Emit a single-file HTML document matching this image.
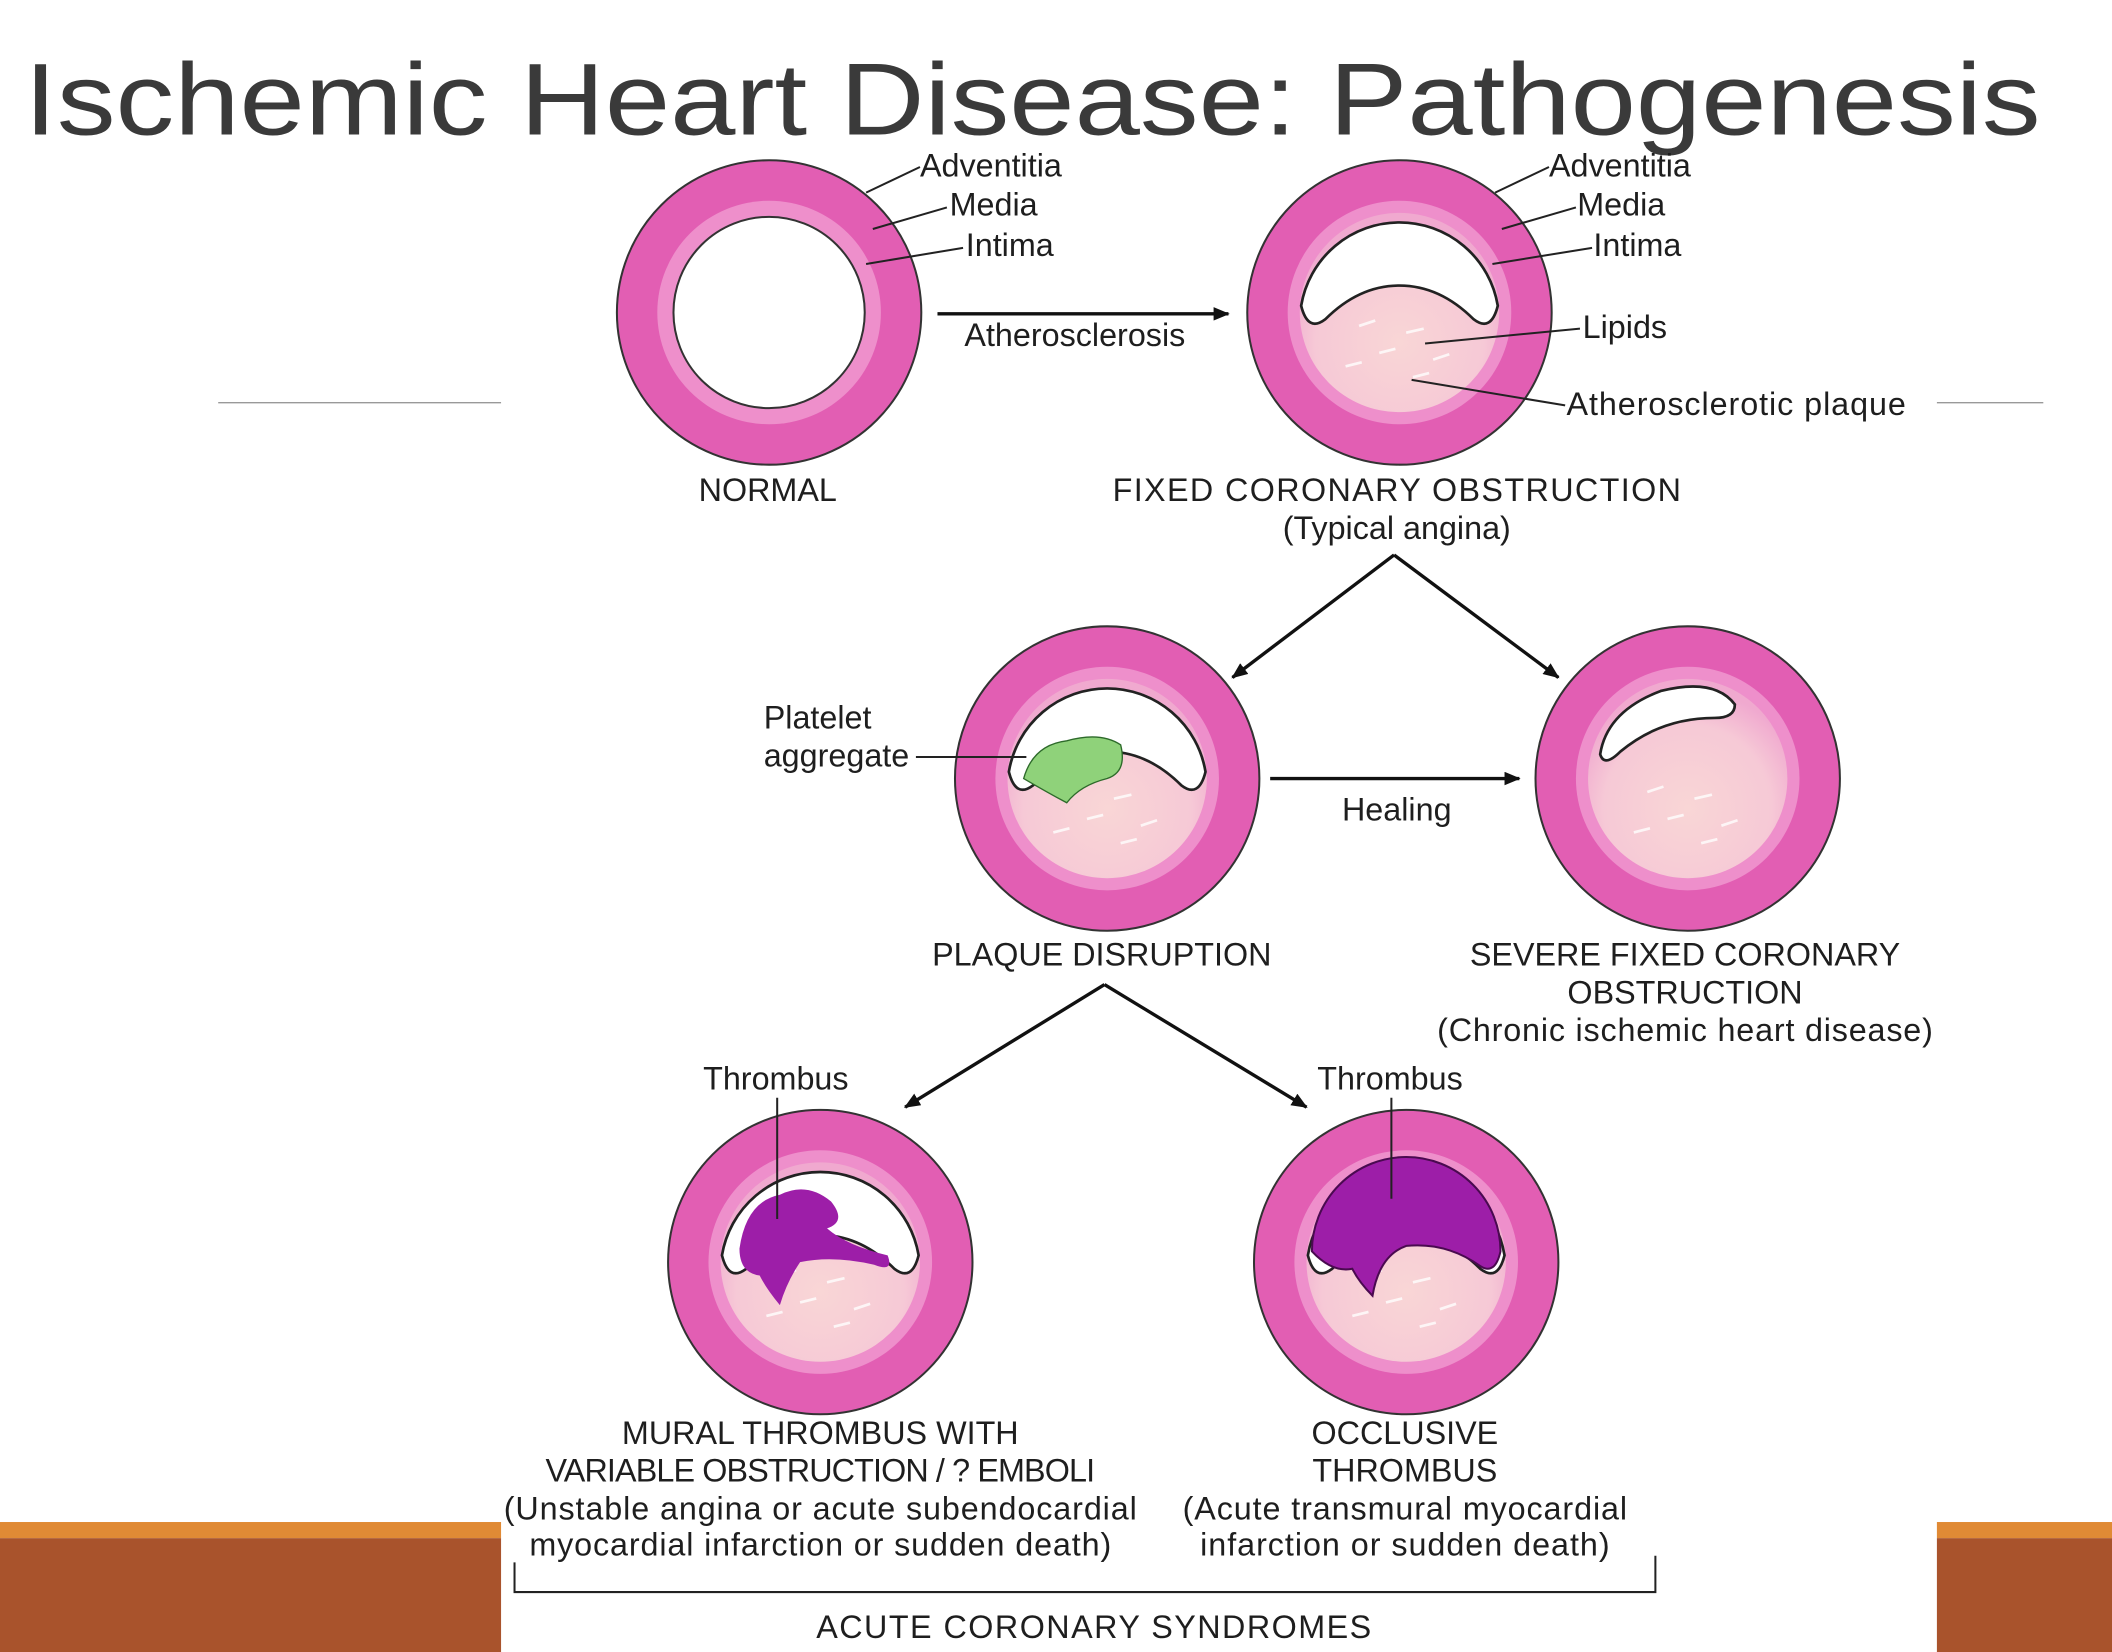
<!DOCTYPE html>
<html><head><meta charset="utf-8"><style>
html,body{margin:0;padding:0;background:#fff;}
svg{display:block;}
svg text{font-family:"Liberation Sans",Arial,sans-serif;fill:#1e1e1e;}
</style></head><body>
<svg width="2112" height="1652" viewBox="0 0 1568 1226.5" preserveAspectRatio="none" xmlns="http://www.w3.org/2000/svg" font-family="Liberation Sans, Arial, sans-serif">
<defs>
<radialGradient id="pl" cx="0.5" cy="0.65" r="0.6">
<stop offset="0" stop-color="#f9d6d6"/><stop offset="0.7" stop-color="#f6c9d6"/><stop offset="1" stop-color="#f0a9cf"/>
</radialGradient>
<marker id="ah" markerWidth="12" markerHeight="10" refX="11" refY="5" orient="auto" markerUnits="userSpaceOnUse">
<path d="M0,0 L12,5 L0,10 Z" fill="#111"/></marker>
<g id="ring">
<circle r="113" fill="#e25eb3" stroke="#333" stroke-width="1.5"/>
<circle r="83" fill="#ee8fcb"/>
<circle r="74" fill="url(#pl)"/>
<g stroke="#fff" stroke-width="2" opacity="0.8">
<line x1="-30" y1="10" x2="-18" y2="6"/><line x1="5" y1="15" x2="18" y2="12"/><line x1="-15" y1="30" x2="-3" y2="27"/><line x1="25" y1="35" x2="37" y2="31"/><line x1="-40" y1="40" x2="-28" y2="37"/><line x1="10" y1="48" x2="22" y2="45"/>
</g>
</g>
</defs>
<rect width="1568" height="1226.5" fill="#fff"/>
<text x="18" y="100" font-size="76" style="fill:#3a3a3a" textLength="1497" lengthAdjust="spacingAndGlyphs">Ischemic Heart Disease:   Pathogenesis</text>
<line x1="162" y1="299" x2="372" y2="299" stroke="#999" stroke-width="1"/>
<line x1="1438" y1="299" x2="1517" y2="299" stroke="#999" stroke-width="1"/>
<rect x="0" y="1130" width="372" height="12" fill="#e08a35"/>
<rect x="0" y="1142" width="372" height="85" fill="#a9532c"/>
<rect x="1438" y="1130" width="130" height="12" fill="#e08a35"/>
<rect x="1438" y="1142" width="130" height="85" fill="#a9532c"/>

<g transform="translate(571,232)">
<circle r="113" fill="#e25eb3" stroke="#333" stroke-width="1.5"/>
<circle r="83" fill="#ee8fcb"/>
<circle r="71" fill="#fff" stroke="#333" stroke-width="1.5"/>
</g>
<g transform="translate(1039,232)">
<use href="#ring"/>
<path d="M-73,-5 A74,74 0 0 1 73,-5 Q68,15 55,5 Q30,-20 0,-20 Q-30,-20 -55,5 Q-68,15 -73,-5 Z" fill="#fff" stroke="#222" stroke-width="2"/>
</g>
<g transform="translate(822,578)">
<use href="#ring"/>
<path d="M-73,-5 A74,74 0 0 1 73,-5 Q68,15 55,5 Q30,-20 0,-20 Q-30,-20 -55,5 Q-68,15 -73,-5 Z" fill="#fff" stroke="#222" stroke-width="2"/>
<path d="M-62,0 Q-55,-25 -30,-28 Q-5,-35 10,-25 Q15,-5 0,0 Q-20,5 -30,18 Q-45,10 -62,0 Z" fill="#8fd27a" stroke="#2d6a2a" stroke-width="1"/>
</g>
<g transform="translate(1253,578)">
<use href="#ring"/>
<path d="M-65,-18 Q-60,-50 -20,-65 Q20,-75 35,-55 Q35,-45 20,-45 Q-20,-45 -50,-20 Q-62,-8 -65,-18 Z" fill="#fff" stroke="#222" stroke-width="2"/>
</g>
<g transform="translate(609,937)">
<use href="#ring"/>
<path d="M-73,-5 A74,74 0 0 1 73,-5 Q68,15 55,5 Q30,-20 0,-20 Q-30,-20 -55,5 Q-68,15 -73,-5 Z" fill="#fff" stroke="#222" stroke-width="2"/>
<path d="M-60,-10 Q-55,-45 -30,-50 Q-10,-60 8,-45 Q20,-30 5,-25 Q20,-12 50,-5 Q55,8 40,2 Q10,-5 -15,0 Q-25,15 -30,32 Q-40,20 -45,10 Q-60,8 -60,-10 Z" fill="#9d1ea8"/>
</g>
<g transform="translate(1044,937)">
<use href="#ring"/>
<path d="M-73,-5 A74,74 0 0 1 73,-5 Q68,15 55,5 Q30,-20 0,-20 Q-30,-20 -55,5 Q-68,15 -73,-5 Z" fill="#fff" stroke="#222" stroke-width="2"/>
<path d="M-70,-8 A70,70 0 0 1 70,-8 Q66,10 55,3 Q30,-15 0,-12 Q-20,-5 -25,25 Q-35,15 -40,5 Q-55,8 -70,-8 Z" fill="#9d1ea8" stroke="#4a0a50" stroke-width="1.5"/>
</g>

<g stroke="#111" stroke-width="2.5" fill="none" marker-end="url(#ah)">
<line x1="696" y1="233" x2="912" y2="233"/>
<line x1="943" y1="578" x2="1128" y2="578"/>
<line x1="1035" y1="412" x2="915" y2="503"/>
<line x1="1035" y1="412" x2="1157" y2="503"/>
<line x1="820" y1="731" x2="672" y2="822"/>
<line x1="820" y1="731" x2="970" y2="822"/>
</g>

<g stroke="#222" stroke-width="1.5">
<line x1="643" y1="143" x2="683" y2="124"/>
<line x1="648" y1="170" x2="703" y2="154"/>
<line x1="643" y1="196" x2="715" y2="184"/>
<line x1="1110" y1="143" x2="1150" y2="124"/>
<line x1="1115" y1="170" x2="1170" y2="154"/>
<line x1="1108" y1="196" x2="1182" y2="184"/>
<line x1="1058" y1="255" x2="1173" y2="244"/>
<line x1="1048" y1="282" x2="1162" y2="301"/>
<line x1="680" y1="562" x2="762" y2="562"/>
<line x1="577" y1="815" x2="577" y2="905"/>
<line x1="1033" y1="815" x2="1033" y2="890"/>
<polyline points="382,1160 382,1182 1229,1182 1229,1155" fill="none"/>
</g>

<g font-size="24">
<text x="683" y="131">Adventitia</text>
<text x="705" y="160">Media</text>
<text x="717" y="190">Intima</text>
<text x="1150" y="131">Adventitia</text>
<text x="1171" y="160">Media</text>
<text x="1183" y="190">Intima</text>
<text x="1175" y="251">Lipids</text>
<text x="1163" y="308" textLength="252">Atherosclerotic plaque</text>
<text x="798" y="257" text-anchor="middle">Atherosclerosis</text>
<text x="567" y="541">Platelet</text>
<text x="567" y="569">aggregate</text>
<text x="1037" y="609" text-anchor="middle">Healing</text>
<text x="576" y="809" text-anchor="middle">Thrombus</text>
<text x="1032" y="809" text-anchor="middle">Thrombus</text>
</g>
<g font-size="24" text-anchor="middle">
<text x="570" y="372">NORMAL</text>
<text x="1037" y="372" textLength="422">FIXED CORONARY OBSTRUCTION</text>
<text x="1037" y="400">(Typical angina)</text>
<text x="818" y="717">PLAQUE DISRUPTION</text>
<text x="1251" y="717">SEVERE FIXED CORONARY</text>
<text x="1251" y="745">OBSTRUCTION</text>
<text x="1251" y="773" textLength="368">(Chronic ischemic heart disease)</text>
<text x="609" y="1072">MURAL THROMBUS WITH</text>
<text x="609" y="1100" textLength="408">VARIABLE OBSTRUCTION / ? EMBOLI</text>
<text x="609" y="1128" textLength="470">(Unstable angina or acute subendocardial</text>
<text x="609" y="1155" textLength="432">myocardial infarction or sudden death)</text>
<text x="1043" y="1072">OCCLUSIVE</text>
<text x="1043" y="1100">THROMBUS</text>
<text x="1043" y="1128" textLength="330">(Acute transmural myocardial</text>
<text x="1043" y="1155" textLength="304">infarction or sudden death)</text>
<text x="812" y="1216" textLength="412">ACUTE CORONARY SYNDROMES</text>
</g>
</svg>
</body></html>
